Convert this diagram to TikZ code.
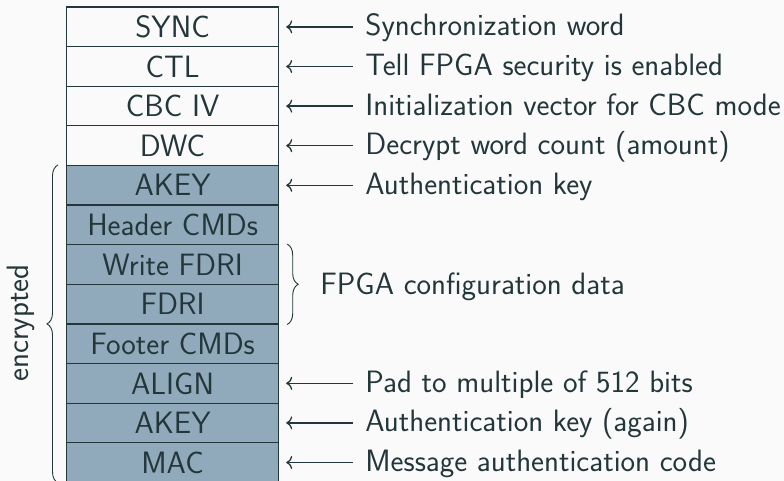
\documentclass[tikz,border=0pt]{standalone}
\usetikzlibrary{arrows.meta,decorations.pathreplacing}
\definecolor{ink}{HTML}{23373B}
\definecolor{bg}{HTML}{FAFAFA}
\definecolor{enc}{RGB}{144,170,187}
\begin{document}
\begin{tikzpicture}[x=1bp,y=-1bp,
  every node/.style={font=\sffamily\fontsize{31}{37}\selectfont, text=ink},
  cell/.style={draw=ink, line width=1.2bp, minimum width=212bp, minimum height=39.6bp, inner sep=0pt, anchor=north west},
  plain/.style={cell, fill=bg},
  crypt/.style={cell, fill=enc},
  lbl/.style={anchor=base west, inner sep=0pt},
  arr/.style={{Computer Modern Rightarrow[length=6bp,width=13bp]}-, line width=1.3bp, draw=ink},
  brc/.style={decorate, decoration={brace, amplitude=11bp}, draw=ink, line width=0.9bp}]
\fill[bg] (0,0) rectangle (784,481);
\useasboundingbox (0,0) rectangle (784,481);
\foreach \n/\t/\s [count=\i from 0] in {b0/SYNC/plain, b1/CTL/plain, b2/CBC IV/plain, b3/DWC/plain,
  b4/AKEY/crypt, b5/Header CMDs/crypt, b6/Write FDRI/crypt, b7/FDRI/crypt, b8/Footer CMDs/crypt,
  b9/ALIGN/crypt, b10/AKEY/crypt, b11/MAC/crypt}
  \node[\s] (\n) at (66, 6.5+\i*39.6) {};
\foreach \n/\t [count=\i from 0] in {b0/SYNC, b1/CTL, b2/CBC IV, b3/DWC,
  b4/AKEY, b5/Header CMDs, b6/Write FDRI, b7/FDRI, b8/Footer CMDs,
  b9/ALIGN, b10/AKEY, b11/MAC}
  \node[anchor=base, inner sep=0pt] (t\n) at ([yshift=-10.7bp]\n.center) {\t};
\foreach \b/\t in {b0/Synchronization word, b1/Tell FPGA security is enabled,
  b2/Initialization vector for CBC mode, b3/Decrypt word count (amount),
  b4/Authentication key, b9/Pad to multiple of 512 bits,
  b10/Authentication key (again), b11/Message authentication code} {
  \node[lbl] (l\b) at ([shift={(86bp,-9bp)}]\b.east) {\t};
  \draw[arr] ([xshift=7bp]\b.east) -- ([xshift=-12bp]l\b.base west |- \b.east);
}
\draw[brc] ([xshift=8bp]b6.north east) -- ([xshift=8bp]b7.south east);
\node[lbl] (fpga) at ([shift={(41bp,-9.5bp)}]b6.south east) {FPGA configuration data};
\draw[brc] ([xshift=-8bp]b11.south west) -- ([xshift=-8bp]b4.north west);
\node[anchor=base, inner sep=0pt, rotate=90] (encr) at (28, 323) {encrypted};
\end{tikzpicture}
\end{document}
